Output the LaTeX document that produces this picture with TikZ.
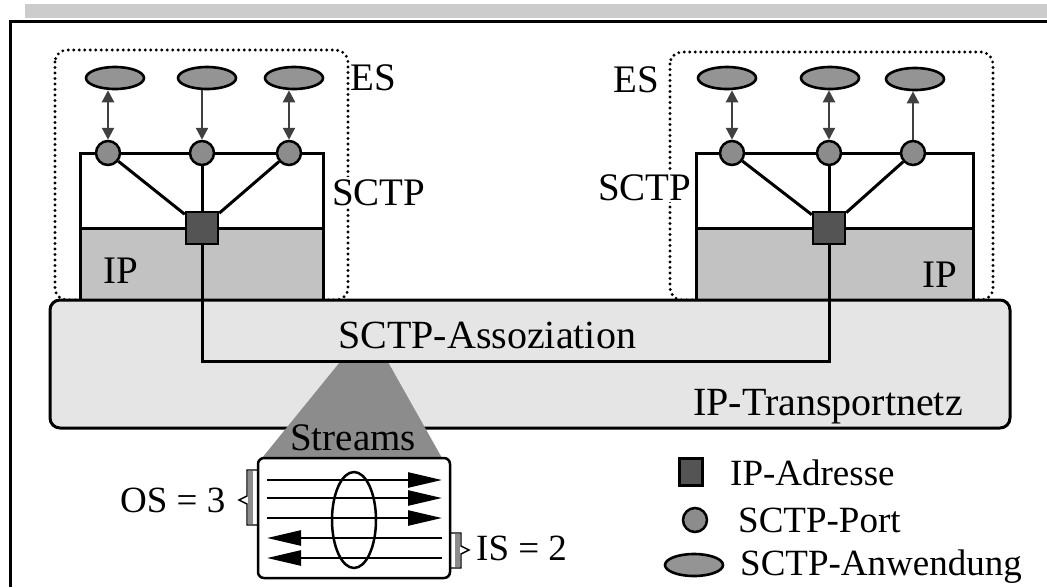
\documentclass[tikz,border=0pt]{standalone}
\usepackage{fontspec}
\setmainfont{Liberation Serif}
\usetikzlibrary{shapes.geometric,arrows.meta}

\definecolor{bandgray}{gray}{0.80}
\definecolor{netgray}{gray}{0.90}
\definecolor{ipgray}{gray}{0.76}
\definecolor{appgray}{gray}{0.58}
\definecolor{portgray}{gray}{0.55}
\definecolor{addrgray}{gray}{0.33}
\definecolor{fangray}{gray}{0.55}
\definecolor{tipgray}{gray}{0.25}
\definecolor{bracegray}{gray}{0.55}

\tikzset{
  lbl/.style={font=\fontsize{39}{44}\selectfont, inner sep=0pt, anchor=base west},
  leg/.style={font=\fontsize{37}{42}\selectfont, inner sep=0pt, anchor=base west},
  app/.style={ellipse, draw, line width=2.6pt, fill=appgray,
              minimum width=58pt, minimum height=22pt, inner sep=0pt},
  port/.style={circle, draw, line width=2.5pt, fill=portgray,
               minimum size=24pt, inner sep=0pt},
  addr/.style={rectangle, draw, line width=2.5pt, fill=addrgray,
               minimum size=32pt, inner sep=0pt},
  wire/.style={line width=3pt},
  esbox/.style={line width=3.2pt, dash pattern=on 0pt off 5.5pt, line cap=round,
                rounded corners=12pt},
  appflow/.style={line width=2.4pt, draw=tipgray,
                  >={Triangle[length=12pt,width=12pt]}},
  streamline/.style={line width=2.5pt},
  streamtip/.style={-{Triangle[length=34pt,width=15pt]}},
  brace/.style={line width=1.4pt}
}

\begin{document}
\begin{tikzpicture}[x=1pt,y=-1pt]
\useasboundingbox (0,0) rectangle (1047,587);

% header strip and outer frame
\fill[bandgray] (25,4) rectangle (1047,18);
\draw[line width=3pt] (10,587) -- (10,21) -- (1047,21);

% end systems (dotted)
\draw[esbox] (55,50) rectangle (348,300);
\draw[esbox] (670,52) rectangle (993,300);

% protocol stacks: SCTP above IP
\fill[ipgray] (80,228) rectangle (323,300);
\draw[wire] (80,300) -- (80,153) -- (323,153) -- (323,300);
\draw[wire] (80,228) -- (323,228);
\fill[ipgray] (696,228) rectangle (973,300);
\draw[wire] (696,300) -- (696,153) -- (973,153) -- (973,300);
\draw[wire] (696,228) -- (973,228);

% transport network
\draw[line width=3pt, fill=netgray, rounded corners=10pt] (50,300) rectangle (1010,428);

% fan towards the streams
\fill[fangray] (340,362) -- (388,362) -- (442,458) -- (262,458) -- cycle;

% labels of the end systems
\node[lbl] (esL) at (350,90) {ES};
\node[lbl, fill=white, inner sep=2pt] (sctpL) at (330,205) {SCTP};
\node[lbl] (ipL) at (103,283) {IP};
\node[lbl] (esR) at (613,92) {ES};
\node[lbl, fill=white, inner sep=2pt] (sctpR) at (596,200) {SCTP};
\node[lbl] (ipR) at (922,287) {IP};

% left end system
\node[addr] (addrL) at (202,228) {};
\node[port] (pL1) at (108,153) {};
\node[port] (pL2) at (202,153) {};
\node[port] (pL3) at (289,153) {};
\node[app] (aL1) at (115,78) {};
\node[app] (aL2) at (207,78) {};
\node[app] (aL3) at (294,78) {};
\draw[wire] (addrL) -- (pL1);
\draw[wire] (addrL) -- (pL2);
\draw[wire] (addrL) -- (pL3);
\draw[appflow, <->] (pL1.north |- aL1.south) -- (pL1.north);
\draw[appflow, ->] (pL2.north |- aL2.south) -- (pL2.north);
\draw[appflow, <->] (pL3.north |- aL3.south) -- (pL3.north);

% right end system
\node[addr] (addrR) at (829,228) {};
\node[port] (pR1) at (732,153) {};
\node[port] (pR2) at (829,153) {};
\node[port] (pR3) at (913,153) {};
\node[app] (aR1) at (727,78) {};
\node[app] (aR2) at (830,78) {};
\node[app] (aR3) at (915,79) {};
\draw[wire] (addrR) -- (pR1);
\draw[wire] (addrR) -- (pR2);
\draw[wire] (addrR) -- (pR3);
\draw[appflow, <->] (pR1.north |- aR1.south) -- (pR1.north);
\draw[appflow, <->] (pR2.north |- aR2.south) -- (pR2.north);
\draw[appflow, <-] (pR3.north |- aR3.south) -- (pR3.north);

% the association between both addresses
\coordinate (asL) at (202,361);
\coordinate (asR) at (829,361);
\draw[wire] (addrL.south) -- (asL) -- (asR) -- (addrR.south);
\node[lbl, font=\fontsize{40}{45}\selectfont] (assoc) at (338,348) {SCTP-Assoziation};
\node[lbl, font=\fontsize{40}{45}\selectfont] (net) at (693,415) {IP-Transportnetz};

% streams inside the association
\node[lbl] (streamlbl) at (290,450) {Streams};
\node[draw, line width=2.5pt, fill=white, rounded corners=6pt,
      minimum width=192pt, minimum height=120pt, inner sep=0pt] (sbox) at (354,518) {};
\draw[streamline, streamtip] (267,480) -- (442,480);
\draw[streamline, streamtip] (267,498) -- (442,498);
\draw[streamline, streamtip] (267,518) -- (442,518);
\draw[streamline, streamtip] (442,538) -- (267,538);
\draw[streamline, streamtip] (442,558) -- (267,558);
\draw[line width=2.5pt] (354,520) ellipse [x radius=22, y radius=48];

% outgoing and incoming stream counts
\fill[bracegray] (248,471) rectangle (253,524);
\draw[brace] (257,470) -- (247,470) -- (247,496) -- (239,500) -- (247,504) -- (247,525) -- (257,525);
\node[leg] (os) at (120,512) {OS = 3};
\fill[bracegray] (455,534) rectangle (460,567);
\draw[brace] (451,533) -- (461,533) -- (461,546) -- (469,550) -- (461,554) -- (461,568) -- (451,568);
\node[leg] (is) at (476,560) {IS = 2};

% legend
\node[addr, minimum width=23pt, minimum height=27pt] (kAddr) at (691,472) {};
\node[leg] (tAddr) at (730,485) {IP-Adresse};
\node[port] (kPort) at (695,520) {};
\node[leg] (tPort) at (738,532) {SCTP-Port};
\node[app] (kApp) at (694,565) {};
\node[leg] (tApp) at (740,575) {SCTP-Anwendung};
\end{tikzpicture}
\end{document}
